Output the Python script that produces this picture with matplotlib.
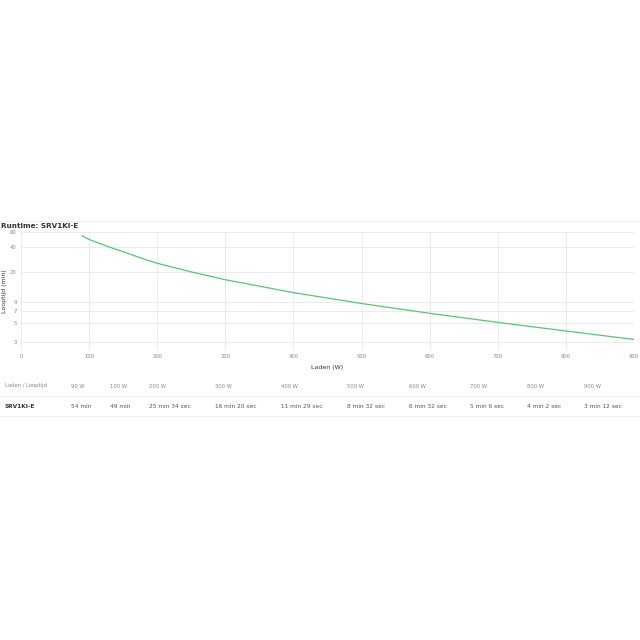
import numpy as np
import matplotlib.pyplot as plt
from matplotlib.ticker import FixedLocator, NullLocator

# table under the chart
load_w = [90, 100, 200, 300, 400, 500, 600, 700, 800, 900]
runtime_txt = ["54 min", "49 min", "25 min 34 sec", "16 min 20 sec", "11 min 29 sec",
               "8 min 32 sec", "6 min 32 sec", "5 min 6 sec", "4 min 2 sec", "3 min 12 sec"]

# curve: table values plus a few points
curve_w = [90, 100, 125, 150, 175, 200, 250, 300, 400, 500, 600, 700, 800, 900]
curve_min = [54, 49, 41, 35, 29.7, 25 + 34/60, 20.2, 16 + 20/60, 11 + 29/60, 8 + 32/60,
             6 + 32/60, 5 + 6/60, 4 + 2/60, 3 + 12/60]

y_ticks = [3, 5, 7, 9, 20, 40, 60]
x_ticks = [0, 100, 200, 300, 400, 500, 600, 700, 800, 900]
col_x = [71, 110, 149, 215, 281, 347, 409, 470, 527, 584]  # table columns (px)

fig = plt.figure(figsize=(6.4, 6.4), dpi=100)
W, H = 640, 640

ax = fig.add_axes([21/W, 1 - 350/H, (634 - 21)/W, (350 - 232)/H])
ax.plot(curve_w, curve_min, color="#5cc474", lw=0.9)
ax.set_yscale("log")
ax.set_xlim(0, 900)
ax.set_ylim(2.4, 60)
ax.yaxis.set_major_locator(FixedLocator(y_ticks))
ax.yaxis.set_minor_locator(NullLocator())
ax.set_yticklabels([str(t) for t in y_ticks])
ax.set_xticks(x_ticks)
ax.grid(True, color="#e8e8e8", lw=0.6)
for s in ax.spines.values():
    s.set_visible(False)
ax.tick_params(length=0, labelsize=3.8, labelcolor="#888888", pad=3)
ax.set_xlabel("Laden (W)", fontsize=4.5, color="#333333", labelpad=4)
ax.set_ylabel("Looptijd (min)", fontsize=4.5, color="#333333", va="center")
ax.yaxis.set_label_coords((4.5 - 21) / 613, 0.5)

# title and separators
fig.text(1/W, 1 - 226/H, "Runtime: SRV1KI-E", fontsize=5.2, fontweight="bold",
         color="#333333", va="center", ha="left")
fig.add_artist(plt.Line2D([0, 1], [1 - 221/H, 1 - 221/H], color="#eeeeee", lw=0.6))

# table below
fig.text(5/W, 1 - 386/H, "Laden / Looptijd", fontsize=3.8, color="#888888", va="center")
fig.text(5/W, 1 - 406/H, "SRV1KI-E", fontsize=4.2, fontweight="bold", color="#333333", va="center")
for x, w, t in zip(col_x, load_w, runtime_txt):
    fig.text(x/W, 1 - 386/H, f"{w} W", fontsize=3.8, color="#888888", va="center")
    fig.text(x/W, 1 - 406/H, t, fontsize=4.2, color="#555555", va="center")
for yy in (396, 416):
    fig.add_artist(plt.Line2D([0, 1], [1 - yy/H, 1 - yy/H], color="#eeeeee", lw=0.6))

fig.savefig("out.png", dpi=100)
